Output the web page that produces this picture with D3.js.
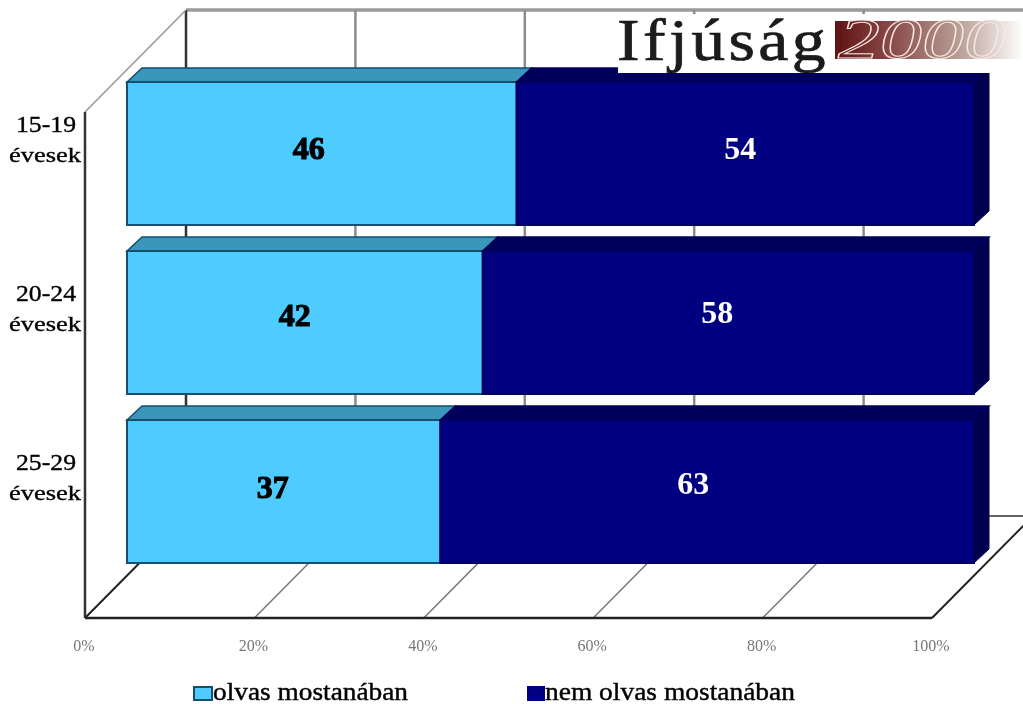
<!DOCTYPE html>
<html><head><meta charset="utf-8">
<script src="https://cdn.jsdelivr.net/npm/d3@7"></script>
<style>html,body{margin:0;padding:0;background:#fff;overflow:hidden}svg{display:block}text{font-family:"Liberation Serif",serif}</style>
</head><body><svg id="c" width="1023" height="704"></svg>
<script>
const categories = ["15-19","20-24","25-29"];
const categoryUnit = "évesek";
const reading = [46,42,37];
const notReading = [54,58,63];
const readingLabels = [46,42,37];
const notReadingLabels = [54,58,63];
const ticks = [0,20,40,60,80,100];
const seriesNames = ["olvas mostanában","nem olvas mostanában"];
const titleText = "Ifjúság";
const yearText = "2000";

const svg = d3.select("#c");
const defs = svg.append("defs");
defs.append("filter").attr("id","soft").attr("x","-2%").attr("y","-2%").attr("width","104%").attr("height","104%")
  .append("feGaussianBlur").attr("stdDeviation",0.5);
const grad = defs.append("linearGradient").attr("id","yr").attr("gradientUnits","userSpaceOnUse").attr("x1",835).attr("x2",1023).attr("y1",0).attr("y2",0);
[[0,"#5e1212"],[0.3,"#8a4a48"],[0.65,"#b79c94"],[1,"#ffffff"]].forEach(([o,c])=>grad.append("stop").attr("offset",o).attr("stop-color",c));

const root = svg.append("g").attr("filter","url(#soft)");
const floorX = d3.scaleLinear().domain([0,100]).range([85,932]);
const barX = d3.scaleLinear().domain([0,100]).range([127,974]);
const backX = d3.scaleLinear().domain([0,100]).range([186,1033]);
const y = d3.scaleBand().domain(categories).range([69,576]).paddingInner(0.154).paddingOuter(0.077);
const floorY=618, backFloorY=516, wallTop=10, leftTop=112;
const dx=15, dy=14;

// walls
root.append("line").attr("x1",186).attr("x2",1023).attr("y1",wallTop).attr("y2",wallTop).attr("stroke","#9a9a9a").attr("stroke-width",3.5);
root.selectAll(".wall").data(ticks.slice(0,-1)).join("line").attr("x1",d=>backX(d)).attr("x2",d=>backX(d))
  .attr("y1",wallTop).attr("y2",backFloorY).attr("stroke",(d,i)=>i?"#8c8c8c":"#333").attr("stroke-width",2.5);
root.append("line").attr("x1",85).attr("y1",leftTop).attr("x2",186).attr("y2",wallTop).attr("stroke","#999").attr("stroke-width",1.6);
root.append("line").attr("x1",85).attr("y1",leftTop).attr("x2",85).attr("y2",floorY).attr("stroke","#333").attr("stroke-width",2.5);
// floor
root.append("line").attr("x1",backX(0)).attr("x2",1023).attr("y1",backFloorY).attr("y2",backFloorY).attr("stroke","#333").attr("stroke-width",1.5);
root.selectAll(".fl").data(ticks).join("line").attr("x1",d=>floorX(d)).attr("y1",floorY)
  .attr("x2",d=>backX(d)).attr("y2",backFloorY)
  .attr("stroke",d=>(d===0||d===100)?"#222":"#777").attr("stroke-width",d=>(d===0||d===100)?2:1.5);
root.append("line").attr("x1",floorX(0)).attr("x2",floorX(100)).attr("y1",floorY).attr("y2",floorY).attr("stroke","#222").attr("stroke-width",2.4);

// bars
const rows = categories.map((c,i)=>({c,i,a:reading[i],b:notReading[i],la:readingLabels[i],lb:notReadingLabels[i]}));
const lightShift=[[-13,-4],[-10,-6],[-11,-3]], darkShift=[[-5,-4],[-11,-9],[-14,-7]];
function seg(g,x0,x1,yy,h,front,top,edge){
  const X0=barX(x0),X1=barX(x1);
  g.append("path").attr("d",d3.line()([[X0,yy],[X0+dx,yy-dy],[X1+dx,yy-dy],[X1,yy]])+"Z").attr("fill",top).attr("stroke",edge).attr("stroke-width",1.5);
  g.append("rect").attr("x",X0).attr("y",yy).attr("width",X1-X0).attr("height",h).attr("fill",front).attr("stroke",edge).attr("stroke-width",2);
}
rows.forEach(r=>{
  const g=root.append("g"), yy=y(r.c), h=y.bandwidth();
  const X=barX(100);
  g.append("path").attr("d",d3.line()([[X,yy],[X+dx,yy-dy],[X+dx,yy+h-dy],[X,yy+h]])+"Z").attr("fill","#000050").attr("stroke","#000050");
  seg(g,0,r.a,yy,h,"#50CCFF","#3A96BC","#14506e");
  seg(g,r.a,100,yy,h,"#000080","#00005c","#00005c");
  const ly=yy+h/2+9;
  g.append("text").attr("x",barX(r.a/2)+lightShift[r.i][0]).attr("y",ly+lightShift[r.i][1]).attr("text-anchor","middle").attr("font-size",32).attr("font-weight","bold").attr("fill","#000").attr("stroke","#000").attr("stroke-width",1.1).text(r.la);
  g.append("text").attr("x",barX(r.a+r.b/2)+darkShift[r.i][0]).attr("y",ly+darkShift[r.i][1]).attr("text-anchor","middle").attr("font-size",32).attr("font-weight","bold").attr("fill","#fff").text(r.lb);
  // category labels
  root.append("text").attr("x",46).attr("y",yy+50).attr("text-anchor","middle").attr("font-size",23).attr("fill","#000").attr("stroke","#000").attr("stroke-width",0.35).attr("textLength",60).attr("lengthAdjust","spacingAndGlyphs").text(r.c);
  root.append("text").attr("x",45).attr("y",yy+80).attr("text-anchor","middle").attr("font-size",22).attr("fill","#000").attr("stroke","#000").attr("stroke-width",0.35).attr("textLength",72).attr("lengthAdjust","spacingAndGlyphs").text(categoryUnit);
});

// axis labels
root.selectAll(".tk").data(ticks).join("text").attr("x",d=>floorX(d)-1).attr("y",651).attr("text-anchor","middle")
  .attr("font-size",16).attr("fill","#777").text(d=>d+"%");

// legend
const legendPos=[[193,213,408],[527,545,795]], legendCol=[["#50CCFF","#14506e"],["#000080","#000080"]];
seriesNames.forEach((n,i)=>{
  const [sx,tx,ex]=legendPos[i];
  root.append("rect").attr("x",sx+1).attr("y",687).attr("width",tx-sx-2).attr("height",13).attr("fill",legendCol[i][0]).attr("stroke",legendCol[i][1]).attr("stroke-width",2);
  root.append("text").attr("x",tx).attr("y",700).attr("font-size",25).attr("fill","#000").attr("stroke","#000").attr("stroke-width",0.4).attr("textLength",ex-tx).attr("lengthAdjust","spacingAndGlyphs").text(n);
});

// title patch
root.append("rect").attr("x",618).attr("y",14).attr("width",405).attr("height",59).attr("fill","#fff");
root.append("text").attr("x",617).attr("y",60).attr("font-size",60).attr("letter-spacing",3).attr("fill","#1a1a1a").attr("stroke","#1a1a1a").attr("stroke-width",0.7).attr("textLength",212).attr("lengthAdjust","spacingAndGlyphs").text(titleText);
root.append("rect").attr("x",835).attr("y",21).attr("width",188).attr("height",38).attr("fill","url(#yr)");
root.append("text").attr("x",838).attr("y",58).attr("font-size",56).attr("font-style","italic").attr("fill","url(#yr)").attr("stroke","#f6e8e4").attr("stroke-width",1).attr("textLength",168).attr("lengthAdjust","spacingAndGlyphs").text(yearText);
</script></body></html>
